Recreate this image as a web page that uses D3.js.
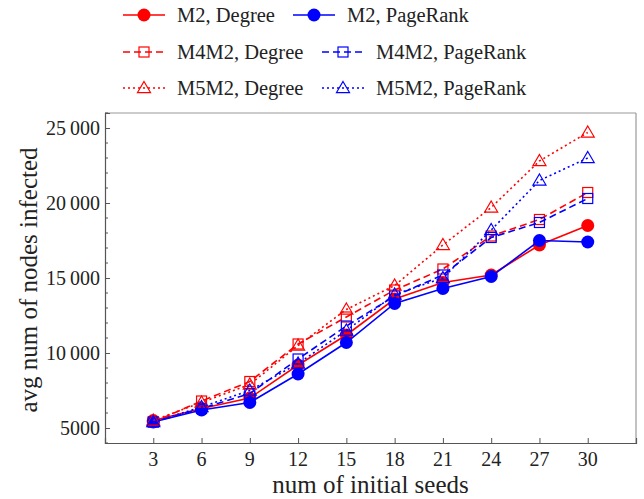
<!DOCTYPE html>
<html>
<head>
<meta charset="utf-8">
<script src="https://cdn.jsdelivr.net/npm/d3@7"></script>
<style>
  html, body { margin: 0; padding: 0; background: #fff; }
  svg { display: block; font-family: "Liberation Serif", "Times New Roman", serif; }
</style>
</head>
<body>
<svg id="chart" width="644" height="499"></svg>
<script>
// Number of initial seeds on the x axis
const seeds = [3, 6, 9, 12, 15, 18, 21, 24, 27, 30];

// Average number of infected nodes per model / seeding strategy
const m2Degree       = [5500, 6300, 7000, 9200, 11200, 13600, 14700, 15200, 17200, 18500];
const m2PageRank     = [5400, 6200, 6700, 8600, 10700, 13300, 14300, 15100, 17500, 17400];
const m4m2Degree     = [5400, 6800, 8100, 10600, 12400, 14200, 15600, 17800, 18900, 20700];
const m4m2PageRank   = [5400, 6300, 7300, 9600, 11800, 13800, 15200, 17700, 18700, 20300];
const m5m2Degree     = [5500, 6700, 7900, 10500, 12900, 14500, 17200, 19700, 22800, 24700];
const m5m2PageRank   = [5400, 6400, 7500, 9300, 11500, 13900, 15000, 18200, 21500, 23000];

const yTicks = [5000, 10000, 15000, 20000, 25000];

const series = [
  { name: "M2, Degree",      values: m2Degree,     color: "#f00", dash: null,  marker: "circle"   },
  { name: "M2, PageRank",    values: m2PageRank,   color: "#00f", dash: null,  marker: "circle"   },
  { name: "M4M2, Degree",    values: m4m2Degree,   color: "#f00", dash: "7,4", marker: "square"   },
  { name: "M4M2, PageRank",  values: m4m2PageRank, color: "#00f", dash: "7,4", marker: "square"   },
  { name: "M5M2, Degree",    values: m5m2Degree,   color: "#f00", dash: "2,3", marker: "triangle" },
  { name: "M5M2, PageRank",  values: m5m2PageRank, color: "#00f", dash: "2,3", marker: "triangle" }
];

const svg = d3.select("#chart");
const pLeft = 105, pRight = 636, pTop = 113, pBottom = 443;

const x = d3.scaleLinear().domain([0, 33]).range([pLeft, pRight]);
const y = d3.scaleLinear().domain([4000, 26000]).range([pBottom, pTop]);

// Frame: darker on the axis sides, lighter on top/right
svg.append("line").attr("x1", pLeft).attr("x2", pRight).attr("y1", pTop).attr("y2", pTop)
  .attr("stroke", "#999").attr("stroke-width", 1.2);
svg.append("line").attr("x1", pRight).attr("x2", pRight).attr("y1", pTop).attr("y2", pBottom)
  .attr("stroke", "#999").attr("stroke-width", 1.2);

const fmt = v => v >= 10000 ? d3.format("d")(Math.floor(v / 1000)) + "\u2009" + d3.format("03d")(v % 1000) : String(v);

// Left axis (ticks inward)
const yAxis = d3.axisRight(y).tickValues(yTicks).tickSize(5).tickFormat("");
const gy = svg.append("g").attr("transform", `translate(${pLeft},0)`).call(yAxis);
gy.select(".domain").attr("stroke", "#555").attr("stroke-width", 1.2);
gy.selectAll(".tick line").attr("stroke", "#555");
const yMinor = d3.range(4000, 26001, 1000).filter(v => !yTicks.includes(v));
svg.append("g").selectAll("line").data(yMinor).join("line")
  .attr("x1", pLeft).attr("x2", pLeft + 3)
  .attr("y1", d => y(d)).attr("y2", d => y(d))
  .attr("stroke", "#555");
svg.append("g").selectAll("text").data(yTicks).join("text")
  .attr("x", pLeft - 5).attr("y", d => y(d)).attr("dy", "0.35em")
  .attr("text-anchor", "end").attr("font-size", 20).attr("fill", "#222")
  .text(fmt);

// Bottom axis (ticks inward)
const xAxis = d3.axisTop(x).tickValues(seeds).tickSize(5).tickFormat("");
const gx = svg.append("g").attr("transform", `translate(0,${pBottom})`).call(xAxis);
gx.select(".domain").attr("stroke", "#555").attr("stroke-width", 1.2);
gx.selectAll(".tick line").attr("stroke", "#555");
svg.append("g").selectAll("text").data(seeds).join("text")
  .attr("x", d => x(d)).attr("y", pBottom + 23)
  .attr("text-anchor", "middle").attr("font-size", 20).attr("fill", "#222")
  .text(d => d);

// Axis titles
svg.append("text").attr("x", (pLeft + pRight) / 2).attr("y", 493)
  .attr("text-anchor", "middle").attr("font-size", 25).attr("fill", "#222")
  .text("num of initial seeds");
svg.append("text").attr("transform", `translate(37,${(pTop + pBottom) / 2 + 2}) rotate(-90)`)
  .attr("text-anchor", "middle").attr("font-size", 25).attr("fill", "#222")
  .text("avg num of nodes infected");

function drawMarker(g, kind, cx, cy, color) {
  if (kind === "circle") {
    g.append("circle").attr("cx", cx).attr("cy", cy).attr("r", 6.5).attr("fill", color);
  } else if (kind === "square") {
    g.append("rect").attr("x", cx - 5).attr("y", cy - 5).attr("width", 10).attr("height", 10)
      .attr("fill", "none").attr("stroke", color).attr("stroke-width", 1.2);
  } else {
    const s = 6.5;
    g.append("path")
      .attr("d", `M${cx},${cy - s}L${cx + s},${cy + s * 0.7}L${cx - s},${cy + s * 0.7}Z`)
      .attr("fill", "none").attr("stroke", color).attr("stroke-width", 1.2);
  }
}

const line = d3.line().x(d => x(d[0])).y(d => y(d[1]));
const plot = svg.append("g");
series.forEach(s => {
  const pts = seeds.map((k, i) => [k, s.values[i]]);
  plot.append("path").datum(pts).attr("d", line)
    .attr("fill", "none").attr("stroke", s.color).attr("stroke-width", 1.6)
    .attr("stroke-dasharray", s.dash);
  pts.forEach(p => drawMarker(plot, s.marker, x(p[0]), y(p[1]), s.color));
});

// Legend: three rows, two entries each
const legendRows = [
  { y: 15, cols: [123, 293] },
  { y: 52, cols: [123, 322] },
  { y: 88, cols: [123, 322] }
];
legendRows.forEach((row, r) => {
  [0, 1].forEach(c => {
    const s = series[r * 2 + c];
    const lx = row.cols[c];
    const g = svg.append("g");
    g.append("line").attr("x1", lx).attr("x2", lx + 42).attr("y1", row.y).attr("y2", row.y)
      .attr("stroke", s.color).attr("stroke-width", 1.6).attr("stroke-dasharray", s.dash);
    drawMarker(g, s.marker, lx + 21, row.y, s.color);
    g.append("text").attr("x", lx + 54).attr("y", row.y).attr("dy", "0.35em")
      .attr("font-size", 20.5).attr("fill", "#222").text(s.name);
  });
});
</script>
</body>
</html>
